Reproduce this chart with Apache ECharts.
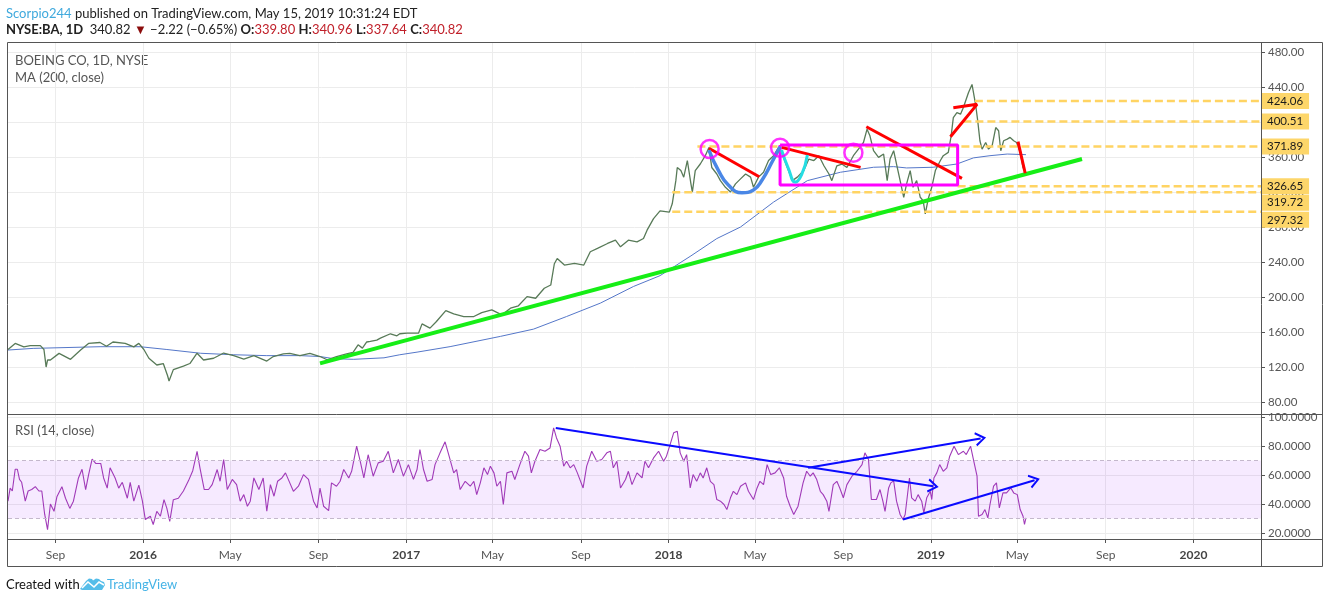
<!DOCTYPE html>
<html><head><meta charset="utf-8">
<script src="https://cdn.jsdelivr.net/npm/echarts@6/dist/echarts.min.js"></script>
<style>html,body{margin:0;padding:0;background:#fff}#c{width:1330px;height:603px}</style>
</head><body><div id="c"></div><script>
// ---------- axis ranges & ticks ----------
const X_MIN = '2015-06-27', X_MAX = '2020-04-04';
const xTickDates = ['2015-09-01','2016-01-01','2016-05-01','2016-09-01','2017-01-01','2017-05-01','2017-09-01','2018-01-01','2018-05-01','2018-09-01','2019-01-01','2019-05-01','2019-09-01','2020-01-01'];
const monthNames = ['Jan','Feb','Mar','Apr','May','Jun','Jul','Aug','Sep','Oct','Nov','Dec'];
const PRICE_MIN = 66.3, PRICE_MAX = 490.3;
const priceTicks = [80,120,160,200,240,280,320,360,400,440,480];
const RSI_MIN = 15.9, RSI_MAX = 101.4;
const rsiTicks = [20,40,60,80,100];

// ---------- daily close (sampled) ----------
const price = [
['2015-06-27',140],['2015-07-07',147],['2015-07-19',143],['2015-07-28',144.5],['2015-08-11',144.5],['2015-08-16',140],
['2015-08-18',127],['2015-08-19',120],['2015-08-21',128],['2015-08-25',128],['2015-09-06',135.6],['2015-09-22',128.8],
['2015-10-06',139.4],['2015-10-17',147],['2015-11-02',148],['2015-11-11',143.7],['2015-11-20',148.6],['2015-12-07',147],
['2015-12-19',143],['2015-12-26',147],['2016-01-02',140],['2016-01-09',130],['2016-01-20',122.3],['2016-01-29',124],
['2016-02-04',110],['2016-02-06',104],['2016-02-12',117],['2016-02-26',121],['2016-03-06',124],['2016-03-16',135.8],
['2016-03-25',128],['2016-04-08',130],['2016-04-22',136],['2016-05-06',133],['2016-05-20',129],['2016-06-03',133],
['2016-06-21',126.8],['2016-06-30',132],['2016-07-14',135],['2016-07-23',135.7],['2016-08-06',133],['2016-08-20',135.7],
['2016-09-03',132],['2016-09-13',128.3],['2016-09-26',132],['2016-10-10',135],['2016-10-19',136.7],['2016-10-26',145.4],
['2016-11-01',141.6],['2016-11-07',148.6],['2016-11-12',149.2],['2016-11-21',150.8],['2016-11-26',153],['2016-12-10',158],
['2016-12-19',155.7],['2016-12-23',158],['2017-01-02',158.7],['2017-01-18',158.7],['2017-01-23',169.3],['2017-02-03',164.4],
['2017-02-12',172],['2017-02-25',184.5],['2017-03-08',180.7],['2017-03-22',177.7],['2017-04-05',177.7],['2017-04-16',182.2],
['2017-04-30',185.3],['2017-05-14',179.6],['2017-05-26',187.2],['2017-06-06',190],['2017-06-18',200.5],['2017-06-30',198.6],
['2017-07-12',210],['2017-07-21',213.7],['2017-07-26',238],['2017-07-30',244],['2017-08-09',236.5],['2017-08-23',238.4],
['2017-09-05',236.5],['2017-09-14',251.7],['2017-09-24',255.5],['2017-10-08',261.2],['2017-10-19',265],['2017-10-26',257.4],
['2017-11-06',265],['2017-11-18',263],['2017-11-27',266.9],['2017-12-02',276.4],['2017-12-11',289.6],['2017-12-20',298.4],
['2018-01-02',297],['2018-01-06',306.5],['2018-01-11',333],['2018-01-13',348],['2018-01-18',344.5],['2018-01-22',337],
['2018-01-27',356],['2018-02-01',329.3],['2018-02-03',320],['2018-02-07',344.5],['2018-02-14',352],['2018-02-21',361.5],
['2018-02-26',371],['2018-03-02',348],['2018-03-09',340.6],['2018-03-14',333],['2018-03-21',325.4],['2018-03-28',320],
['2018-04-04',329.3],['2018-04-11',335],['2018-04-18',340.6],['2018-04-25',337],['2018-04-29',325.4],['2018-05-06',337],
['2018-05-13',342.6],['2018-05-20',356],['2018-05-27',361.5],['2018-06-03',371],['2018-06-08',363.4],['2018-06-15',348],
['2018-06-22',333],['2018-06-29',337],['2018-07-08',344.5],['2018-07-15',357.7],['2018-07-22',356],['2018-07-29',361.5],
['2018-08-05',350],['2018-08-12',340.6],['2018-08-16',333],['2018-08-23',350],['2018-08-30',352],['2018-09-06',348],
['2018-09-15',361.5],['2018-09-22',369],['2018-09-29',376.6],['2018-10-04',391.8],['2018-10-08',384.2],['2018-10-13',367.2],
['2018-10-20',359.6],['2018-10-27',363.4],['2018-11-01',333],['2018-11-05',357.7],['2018-11-10',367.2],['2018-11-14',352],
['2018-11-19',333],['2018-11-24',314],['2018-11-28',329.3],['2018-12-03',344.5],['2018-12-07',325.4],['2018-12-12',333],
['2018-12-17',314],['2018-12-21',310],['2018-12-24',295],['2018-12-28',312],['2019-01-02',325.4],['2019-01-07',344.5],
['2019-01-14',356],['2019-01-18',361.5],['2019-01-25',365.3],['2019-01-29',384.3],['2019-02-01',405],['2019-02-06',410.8],
['2019-02-11',409],['2019-02-15',416.5],['2019-02-22',433.5],['2019-02-27',443],['2019-03-04',420],['2019-03-07',401],
['2019-03-10',378.6],['2019-03-13',369],['2019-03-18',376.6],['2019-03-22',369],['2019-03-27',373],['2019-04-01',393.7],
['2019-04-05',390],['2019-04-08',367.2],['2019-04-12',378.6],['2019-04-17',380.5],['2019-04-21',382.4],['2019-04-26',378.6],
['2019-04-30',376.6],['2019-05-05',365.3],['2019-05-09',348],['2019-05-13',340.82]
];

// ---------- MA(200, close) ----------
const ma200 = [
['2015-06-27',139.4],['2015-08-01',141.3],['2015-11-02',143.2],['2015-12-28',143.2],['2016-02-03',140],['2016-03-21',135.7],
['2016-05-06',134],['2016-06-21',133],['2016-08-06',133],['2016-09-03',132],['2016-09-22',129.5],['2016-10-20',128.8],
['2016-12-01',130.5],['2016-12-23',134],['2017-01-16',137],['2017-03-03',143.3],['2017-05-12',155],['2017-06-27',163.3],
['2017-08-12',177.7],['2017-09-28',193],['2017-11-13',212],['2017-12-20',224.4],['2018-02-01',247],['2018-03-09',266.8],
['2018-04-11',280],['2018-05-27',308.5],['2018-07-13',333],['2018-08-28',342.6],['2018-10-13',348.3],['2018-11-10',349],
['2018-11-28',347.5],['2019-01-04',348.3],['2019-02-06',352],['2019-03-01',359],['2019-03-24',361.5],['2019-04-17',363.4],
['2019-05-13',362.7]
];

// ---------- RSI(14, close) ----------
const rsi = [
['2015-06-27',42],['2015-06-30',51],['2015-07-03',49],['2015-07-07',64],['2015-07-10',64],['2015-07-13',57],['2015-07-16',55],
['2015-07-21',42],['2015-07-25',49],['2015-07-30',50],['2015-08-04',52],['2015-08-09',49],['2015-08-13',49],['2015-08-17',33],
['2015-08-21',22.4],['2015-08-25',40],['2015-08-30',35],['2015-09-03',45],['2015-09-10',52],['2015-09-15',44],['2015-09-21',37],
['2015-09-26',42],['2015-10-03',58],['2015-10-08',64],['2015-10-13',50],['2015-10-17',60],['2015-10-22',71],['2015-10-27',68],
['2015-11-03',68],['2015-11-07',58],['2015-11-12',51],['2015-11-16',65],['2015-11-23',58],['2015-11-28',51],['2015-12-03',55],
['2015-12-10',44],['2015-12-14',55],['2015-12-19',42],['2015-12-26',53],['2015-12-31',42],['2016-01-04',29.3],['2016-01-11',31.6],
['2016-01-15',25.9],['2016-01-20',35],['2016-01-25',31.6],['2016-01-30',43],['2016-02-03',37],['2016-02-07',28],['2016-02-12',43],
['2016-02-19',44],['2016-02-26',49],['2016-03-04',56],['2016-03-10',63],['2016-03-16',76.4],['2016-03-20',65],['2016-03-26',50],
['2016-04-01',50],['2016-04-06',53.4],['2016-04-13',63.8],['2016-04-17',55.7],['2016-04-22',70.7],['2016-04-27',50],['2016-05-04',57],
['2016-05-10',53.4],['2016-05-15',42],['2016-05-20',46.5],['2016-05-25',38.5],['2016-05-29',42],['2016-06-03',58],['2016-06-10',50],
['2016-06-16',58],['2016-06-21',35],['2016-06-26',53.4],['2016-07-01',45.4],['2016-07-06',55.7],['2016-07-12',58],['2016-07-17',61.5],
['2016-07-23',54.6],['2016-07-28',48.8],['2016-08-04',52.3],['2016-08-11',60.3],['2016-08-18',57],['2016-08-25',42],['2016-08-30',37.3],
['2016-09-03',51],['2016-09-08',38.5],['2016-09-15',35.5],['2016-09-19',54.6],['2016-09-26',52.3],['2016-10-01',55.7],['2016-10-06',63.8],
['2016-10-13',58],['2016-10-17',62.6],['2016-10-24',79.9],['2016-10-29',69.5],['2016-11-03',58],['2016-11-09',74],['2016-11-16',59.2],
['2016-11-23',68.4],['2016-11-30',69.5],['2016-12-07',76.4],['2016-12-14',61.5],['2016-12-21',70.7],['2016-12-28',59.2],['2017-01-04',67.2],
['2017-01-11',57],['2017-01-16',63.8],['2017-01-20',77.6],['2017-01-25',63.8],['2017-01-30',55.7],['2017-02-06',57],['2017-02-10',67.2],
['2017-02-17',75.3],['2017-02-24',82.9],['2017-03-02',72.3],['2017-03-08',61.5],['2017-03-12',63.8],['2017-03-17',50],['2017-03-24',55.7],
['2017-03-31',52.3],['2017-04-05',55.7],['2017-04-09',46.5],['2017-04-14',54.6],['2017-04-19',65],['2017-04-24',60.3],['2017-04-28',66.1],
['2017-05-03',61.5],['2017-05-07',52.3],['2017-05-12',55.7],['2017-05-16',39.7],['2017-05-21',61.5],['2017-05-28',62.6],['2017-06-01',56.9],
['2017-06-08',67.2],['2017-06-15',76.4],['2017-06-20',73],['2017-06-24',61.5],['2017-06-29',69.5],['2017-07-06',77.6],['2017-07-13',76.4],
['2017-07-20',78.7],['2017-07-25',92.5],['2017-07-29',85.6],['2017-08-03',79.9],['2017-08-08',66.1],['2017-08-12',69.5],['2017-08-17',65],
['2017-08-22',67.2],['2017-08-27',61.5],['2017-09-04',51.1],['2017-09-09',66.1],['2017-09-16',76.4],['2017-09-23',69.5],['2017-09-30',70.7],
['2017-10-07',75.3],['2017-10-12',76.4],['2017-10-16',65],['2017-10-21',69.5],['2017-10-26',51.1],['2017-11-02',56.9],['2017-11-06',62.6],
['2017-11-11',53.4],['2017-11-18',61.5],['2017-11-25',58],['2017-11-29',69.5],['2017-12-04',65],['2017-12-11',71.8],['2017-12-18',76.4],
['2017-12-25',69.5],['2017-12-29',73],['2018-01-03',81],['2018-01-08',89.1],['2018-01-13',90.2],['2018-01-17',75.3],['2018-01-22',69.5],
['2018-01-26',74.1],['2018-01-31',51.1],['2018-02-04',60.3],['2018-02-09',55.7],['2018-02-14',61.5],['2018-02-18',58],['2018-02-23',65],
['2018-02-28',55.7],['2018-03-05',53.4],['2018-03-09',43.1],['2018-03-14',42],['2018-03-19',39.7],['2018-03-23',36.2],['2018-03-28',44.3],
['2018-04-01',48.8],['2018-04-06',46.5],['2018-04-11',52.3],['2018-04-18',54.6],['2018-04-22',48.8],['2018-04-29',43.1],['2018-05-04',51.1],
['2018-05-08',55.7],['2018-05-13',53.4],['2018-05-18',67.2],['2018-05-23',60.3],['2018-05-29',61.5],['2018-06-04',65],['2018-06-10',58],
['2018-06-14',45.4],['2018-06-19',38.5],['2018-06-24',32.8],['2018-06-30',38.5],['2018-07-07',54.6],['2018-07-12',62.6],['2018-07-17',59.2],
['2018-07-21',61.5],['2018-07-26',56.9],['2018-07-31',48.8],['2018-08-04',46.5],['2018-08-09',42],['2018-08-12',35],['2018-08-18',53.4],
['2018-08-23',55.7],['2018-08-27',51.1],['2018-09-01',44.3],['2018-09-06',53.4],['2018-09-13',59.2],['2018-09-20',62.6],['2018-09-27',67.2],
['2018-10-01',75.3],['2018-10-06',70.7],['2018-10-10',43.1],['2018-10-17',43.1],['2018-10-22',50],['2018-10-26',42],['2018-10-29',35],
['2018-11-03',51.1],['2018-11-06',54.6],['2018-11-10',56],['2018-11-14',42],['2018-11-19',32.8],['2018-11-23',29.3],['2018-11-26',32.8],
['2018-12-02',58],['2018-12-05',44.3],['2018-12-10',42],['2018-12-14',46.5],['2018-12-19',42],['2018-12-22',33.9],['2018-12-26',44.3],
['2018-12-31',48.8],['2019-01-02',43.1],['2019-01-05',58],['2019-01-09',61.5],['2019-01-13',67.2],['2019-01-18',62.6],['2019-01-23',65],
['2019-01-27',73],['2019-02-02',79.9],['2019-02-08',74.1],['2019-02-15',76.4],['2019-02-19',74.1],['2019-02-25',79.9],['2019-03-01',70.7],
['2019-03-06',59.2],['2019-03-08',31.6],['2019-03-13',32.8],['2019-03-17',36.2],['2019-03-21',30.5],['2019-03-24',39.7],['2019-03-29',52.3],
['2019-04-02',54.6],['2019-04-06',37.3],['2019-04-11',47.7],['2019-04-16',47.7],['2019-04-22',51.1],['2019-04-26',47.7],['2019-05-01',46.5],
['2019-05-05',36.2],['2019-05-09',31.6],['2019-05-11',25.9],['2019-05-13',30.5]
];
const rsiBands = [70, 30];

// ---------- drawings (in data space) ----------
const levels = [
  {value: 424.06, from: '2019-03-03'},
  {value: 400.51, from: '2019-02-15'},
  {value: 371.89, from: '2018-02-10'},
  {value: 326.65, from: '2019-02-07'},
  {value: 319.72, from: '2018-01-06'},
  {value: 297.32, from: '2018-01-06'}
];
const greenTrend = [['2016-09-03',124.2],['2019-07-30',357.7]];
const redSegments = [
  [['2018-02-26',370],['2018-05-07',337.5]],
  [['2018-06-07',371],['2018-09-25',348.2]],
  [['2018-10-03',394.6],['2019-02-13',335.6]],
  [['2019-05-02',377.5],['2019-05-12',341.4]]
];
const redArrow = [['2019-02-01',416.3],['2019-03-06',420.2],['2019-01-28',383.2]];
const boxCorners = [['2018-06-05',373.7],['2019-02-07',328]];
const circles = [['2018-02-27',369.1],['2018-06-05',370.6],['2018-09-15',364.9]];
const blueCup = [['2018-02-26',368],['2018-03-11',345.1],['2018-03-25',328],['2018-04-13',319.2],['2018-04-29',322.3],['2018-05-11',333.7],['2018-05-25',354.6],['2018-06-05',371.8]];
const cyanCup = [['2018-06-07',368],['2018-06-17',346],['2018-06-26',331.4],['2018-07-05',340],['2018-07-13',362.3]];
const rsiArrows = [
  [['2017-07-28',92.5],['2019-01-04',52.3]],
  [['2018-07-14',65],['2019-03-11',85.2]],
  [['2018-11-23',29.3],['2019-05-25',56.4]]
];

// ---------- build ----------
const FONT = 'Lato, "Noto Sans", sans-serif';
const T = s => echarts.time.parse(s).getTime();
const P = arr => arr.map(d => [T(d[0]), d[1]]);
const xMin = T(X_MIN), xMax = T(X_MAX);
const xTicks = xTickDates.map(T);
const levelLabelOffset = {'319.72': [0, 10.5], '297.32': [0, 8]};
const CHEVRON = 'path://M5,0 L10,8.6 L8.7,9.4 L5,2.9 L1.3,9.4 L0,8.6 Z';

const chart = echarts.init(document.getElementById('c'), null, {renderer: 'canvas'});

const series = [];
series.push({type:'line', name:'MA', xAxisIndex:0, yAxisIndex:0, data:P(ma200), showSymbol:false, silent:true,
  lineStyle:{color:'#5577c9', width:1}, z:2});
series.push({type:'line', name:'BA', xAxisIndex:0, yAxisIndex:0, data:P(price), showSymbol:false, silent:true,
  lineStyle:{color:'#587a58', width:1.3}, z:3});
levels.forEach(l => {
  series.push({type:'line', xAxisIndex:0, yAxisIndex:0, data:[[T(l.from), l.value],[xMax, l.value]], showSymbol:false, silent:true,
    lineStyle:{color:'#ffd463', width:2.5, type:[8,4]}, z:4, clip:false,
    endLabel:{show:true, formatter:() => l.value.toFixed(2), backgroundColor:'#fdd66a', color:'#1a1a1a',
      fontFamily:FONT, fontSize:11.5, padding:[2,6,2,6], distance:0, offset: levelLabelOffset[l.value.toFixed(2)] || [0,0]}});
});
series.push({type:'line', xAxisIndex:0, yAxisIndex:0, data:P(greenTrend), showSymbol:false, silent:true,
  lineStyle:{color:'#16ee16', width:4}, z:5});
redSegments.forEach(s => series.push({type:'line', xAxisIndex:0, yAxisIndex:0, data:P(s), showSymbol:false, silent:true,
  lineStyle:{color:'#ff0000', width:3}, z:6}));
series.push({type:'line', xAxisIndex:0, yAxisIndex:0, data:P(redArrow), showSymbol:false, silent:true,
  lineStyle:{color:'#ff0000', width:3}, z:6});
const b0 = boxCorners[0], b1 = boxCorners[1];
series.push({type:'line', xAxisIndex:0, yAxisIndex:0,
  data:P([[b0[0],b0[1]],[b1[0],b0[1]],[b1[0],b1[1]],[b0[0],b1[1]],[b0[0],b0[1]]]), showSymbol:false, silent:true,
  lineStyle:{color:'#ff00ff', width:3}, z:6});
series.push({type:'line', xAxisIndex:0, yAxisIndex:0, data:P(blueCup), smooth:true, showSymbol:false, silent:true,
  lineStyle:{color:'#4a87e6', width:3.5}, z:6});
series.push({type:'line', xAxisIndex:0, yAxisIndex:0, data:P(cyanCup), smooth:true, showSymbol:false, silent:true,
  lineStyle:{color:'#25dde3', width:3}, z:6});
series.push({type:'scatter', xAxisIndex:0, yAxisIndex:0, data:P(circles), symbol:'circle', symbolSize:18, silent:true,
  itemStyle:{color:'rgba(0,0,0,0)', borderColor:'#ff00ff', borderWidth:2.5}, z:7});

const rsiMarkLines = rsiBands.map(v => ({yAxis:v, lineStyle:{color:'#c4b8cc', width:1, type:[4,3]}}));
rsiArrows.forEach(a => rsiMarkLines.push([
  {coord:[T(a[0][0]), a[0][1]], lineStyle:{color:'#0a0aff', width:2, type:'solid'}},
  {coord:[T(a[1][0]), a[1][1]], symbol:CHEVRON, symbolSize:[14,11]}
]));
series.push({type:'line', name:'RSI', xAxisIndex:1, yAxisIndex:1, data:P(rsi), showSymbol:false, silent:true,
  lineStyle:{color:'#a03ab8', width:1.1}, z:3,
  markArea:{silent:true, itemStyle:{color:'rgba(153,21,255,0.09)'}, data:[[{yAxis:rsiBands[0]},{yAxis:rsiBands[1]}]]},
  markLine:{silent:true, symbol:['none','none'], label:{show:false}, data:rsiMarkLines, animation:false}
});

const gridLine = {show:true, lineStyle:{color:'#ececec', width:1}};
const xAxisBase = {type:'value', min:xMin, max:xMax, axisLine:{show:false}, splitLine:gridLine};
const option = {
  animation:false,
  backgroundColor:'#ffffff',
  grid:[
    {left:8, top:43, width:1253, height:371},
    {left:8, top:415, width:1253, height:124}
  ],
  xAxis:[
    Object.assign({gridIndex:0, axisTick:{show:false, customValues:xTicks}, axisLabel:{show:false, customValues:xTicks}}, xAxisBase),
    Object.assign({gridIndex:1,
      axisTick:{show:true, customValues:xTicks, length:4, lineStyle:{color:'#555'}},
      axisLabel:{show:true, customValues:xTicks, margin:10, color:'#555', fontFamily:FONT, fontSize:12,
        formatter:v => { const d = new Date(v); return d.getMonth() === 0 ? '{b|' + d.getFullYear() + '}' : monthNames[d.getMonth()]; },
        rich:{b:{fontWeight:'bold', color:'#444', fontFamily:FONT, fontSize:12}}}}, xAxisBase)
  ],
  yAxis:[
    {gridIndex:0, type:'value', position:'right', min:PRICE_MIN, max:PRICE_MAX, axisLine:{show:false},
      axisTick:{show:true, customValues:priceTicks, length:4, lineStyle:{color:'#555'}},
      axisLabel:{customValues:priceTicks, formatter:v => v.toFixed(2), color:'#555', fontFamily:FONT, fontSize:11.5, margin:7},
      splitLine:gridLine},
    {gridIndex:1, type:'value', position:'right', min:RSI_MIN, max:RSI_MAX, axisLine:{show:false},
      axisTick:{show:true, customValues:rsiTicks, length:4, lineStyle:{color:'#555'}},
      axisLabel:{customValues:rsiTicks, formatter:v => v.toFixed(4), color:'#555', fontFamily:FONT, fontSize:11.5, margin:7},
      splitLine:gridLine}
  ],
  series:series,
  graphic:[
    {type:'rect', shape:{x:7.5, y:42.5, width:1315, height:524}, style:{fill:null, stroke:'#555', lineWidth:1}, silent:true, z:100},
    {type:'line', shape:{x1:7.5, y1:414.5, x2:1322.5, y2:414.5}, style:{stroke:'#555', lineWidth:1}, silent:true, z:100},
    {type:'line', shape:{x1:7.5, y1:539.5, x2:1322.5, y2:539.5}, style:{stroke:'#555', lineWidth:1}, silent:true, z:100},
    {type:'line', shape:{x1:1261.5, y1:42.5, x2:1261.5, y2:566.5}, style:{stroke:'#555', lineWidth:1}, silent:true, z:100},
    {type:'text', left:6, top:7, silent:true, style:{
      text:'{u|Scorpio244} {n|published on TradingView.com, May 15, 2019 10:31:24 EDT}',
      rich:{u:{fill:'#3fa9dd', font:'13px ' + FONT}, n:{fill:'#222', font:'13px ' + FONT}}}},
    {type:'text', left:6, top:23, silent:true, style:{
      text:'{b|NYSE:BA, 1D}  {n|340.82} {t|▼} {n|\u22122.22 (\u22120.65%)} {b|O:}{r|339.80} {b|H:}{r|340.96} {b|L:}{r|337.64} {b|C:}{r|340.82}',
      rich:{b:{fill:'#222', font:'bold 13px ' + FONT}, n:{fill:'#222', font:'13px ' + FONT},
        r:{fill:'#c0202a', font:'13px ' + FONT}, t:{fill:'#8b0c0c', font:'13px ' + FONT}}}},
    {type:'text', left:15, top:54, silent:true, style:{text:'BOEING CO, 1D, NYSE', fill:'#555', font:'13px ' + FONT}},
    {type:'text', left:15, top:71, silent:true, style:{text:'MA (200, close)', fill:'#555', font:'13px ' + FONT}},
    {type:'text', left:15, top:424, silent:true, style:{text:'RSI (14, close)', fill:'#555', font:'13px ' + FONT}},
    {type:'text', left:6, top:578, silent:true, style:{text:'Created with', fill:'#111', font:'13px ' + FONT}},
    {type:'polygon', silent:true, shape:{points:[[80,589],[86,581],[89,578.5],[92,579],[93,580.5],[96,578.5],[99,579],[101,581],[104,582],[105,585],[102,590],[82,590]]}, style:{fill:'#55bde9'}},
    {type:'polyline', silent:true, shape:{points:[[82,588],[88,582],[94,587],[99,582],[104,585]]}, style:{stroke:'#ffffff', lineWidth:1.6, fill:null}},
    {type:'text', left:107, top:578, silent:true, style:{text:'TradingView', fill:'#45b3e6', font:'13px ' + FONT}}
  ]
};
chart.setOption(option);
</script></body></html>
